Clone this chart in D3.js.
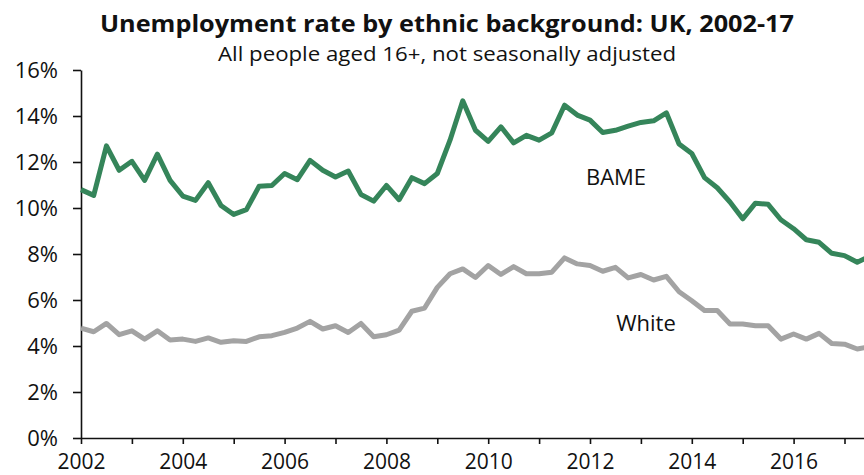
<!DOCTYPE html>
<html>
<head>
<meta charset="utf-8">
<script src="https://cdn.jsdelivr.net/npm/d3@7"></script>
<style>
  html, body { margin: 0; padding: 0; background: #fff; }
  svg { display: block; }
  text { font-family: "Open Sans", "Noto Sans", sans-serif; fill: #111; }
</style>
</head>
<body>
<svg id="chart" width="864" height="475"></svg>
<script>
// Quarterly unemployment rate (%), all people aged 16+, starting 2002 Q1
const startYear = 2002;
const bame = [
  10.8, 10.55, 12.7, 11.64, 12.03, 11.2, 12.34, 11.2,
  10.52, 10.33, 11.1, 10.11, 9.72, 9.93, 10.95, 10.98,
  11.5, 11.23, 12.07, 11.64, 11.35, 11.61, 10.59, 10.3,
  10.98, 10.36, 11.32, 11.06, 11.5, 12.95, 14.66, 13.38,
  12.9, 13.53, 12.83, 13.16, 12.95, 13.27, 14.47, 14.04,
  13.82, 13.28, 13.38, 13.56, 13.72, 13.79, 14.14, 12.78,
  12.37, 11.32, 10.88, 10.26, 9.53, 10.21, 10.16, 9.49,
  9.1, 8.62, 8.51, 8.03, 7.93, 7.64, 7.9
];
const white = [
  4.78, 4.62, 4.98, 4.49, 4.66, 4.3, 4.66, 4.26,
  4.3, 4.2, 4.35, 4.16, 4.23, 4.2, 4.4, 4.45,
  4.59, 4.78, 5.07, 4.74, 4.88, 4.59, 4.98, 4.4,
  4.49, 4.69, 5.51, 5.65, 6.55, 7.14, 7.35, 6.98,
  7.5, 7.11, 7.45, 7.14, 7.14, 7.21, 7.83, 7.57,
  7.5, 7.25, 7.42, 6.96, 7.11, 6.87, 7.03, 6.36,
  5.97, 5.54, 5.54, 4.96, 4.96, 4.88, 4.88, 4.3,
  4.52, 4.3, 4.55, 4.11, 4.08, 3.87, 3.97
];
const yTicks = [0, 2, 4, 6, 8, 10, 12, 14, 16];
const xTickYears = d3.range(2002, 2018);
const xLabelYears = [2002, 2004, 2006, 2008, 2010, 2012, 2014, 2016];

const svg = d3.select("#chart");
const W = 864, H = 475;
const plotLeft = 81, plotTop = 70, plotBottom = 438;

const x = d3.scaleLinear().domain([2002, 2017.4]).range([plotLeft, plotLeft + 15.4 * 50.9]);
const y = d3.scaleLinear().domain([0, 16]).range([plotBottom, plotTop]);

// Titles
svg.append("text")
  .attr("x", 447).attr("y", 32)
  .attr("text-anchor", "middle")
  .attr("font-size", 24).attr("font-weight", 700)
  .attr("textLength", 694).attr("lengthAdjust", "spacingAndGlyphs")
  .text("Unemployment rate by ethnic background: UK, 2002-17");
svg.append("text")
  .attr("x", 447).attr("y", 61)
  .attr("text-anchor", "middle")
  .attr("font-size", 20)
  .attr("textLength", 458).attr("lengthAdjust", "spacingAndGlyphs")
  .text("All people aged 16+, not seasonally adjusted");

// Y axis
const yAxis = svg.append("g")
  .attr("transform", `translate(${plotLeft},0)`)
  .call(d3.axisLeft(y).tickValues(yTicks).tickSize(8).tickSizeOuter(0)
    .tickFormat(d => d + "%"));
yAxis.select(".domain").attr("stroke", "#111").attr("stroke-width", 1.6);
yAxis.selectAll(".tick line").attr("stroke", "#111").attr("stroke-width", 1.6);
yAxis.selectAll(".tick text")
  .attr("x", -23).attr("font-size", 22).attr("fill", "#111")
  .style("font-family", '"Open Sans", sans-serif');

// X axis
const xAxis = svg.append("g")
  .attr("transform", `translate(0,${plotBottom})`)
  .call(d3.axisBottom(x).tickValues(xTickYears).tickSize(6).tickSizeOuter(0)
    .tickFormat(d => xLabelYears.includes(d) ? String(d) : ""));
xAxis.select(".domain").attr("stroke", "#111").attr("stroke-width", 1.6)
  .attr("d", `M${plotLeft},0.5H${W}`);
xAxis.selectAll(".tick line").attr("stroke", "#111").attr("stroke-width", 1.6);
xAxis.selectAll(".tick text")
  .attr("y", 16).attr("font-size", 21).attr("fill", "#111")
  .style("font-family", '"Open Sans", sans-serif');

// Lines
const line = d3.line()
  .x((d, i) => x(startYear + i / 4))
  .y(d => y(d));

svg.append("path").datum(white)
  .attr("fill", "none").attr("stroke", "#a3a3a3")
  .attr("stroke-width", 5).attr("stroke-linejoin", "round")
  .attr("d", line);
svg.append("path").datum(bame)
  .attr("fill", "none").attr("stroke", "#35855a")
  .attr("stroke-width", 5).attr("stroke-linejoin", "round")
  .attr("d", line);

// Series labels
svg.append("text").attr("x", 616).attr("y", 185)
  .attr("text-anchor", "middle").attr("font-size", 22).text("BAME");
svg.append("text").attr("x", 646).attr("y", 331)
  .attr("text-anchor", "middle").attr("font-size", 22).text("White");
</script>
</body>
</html>
